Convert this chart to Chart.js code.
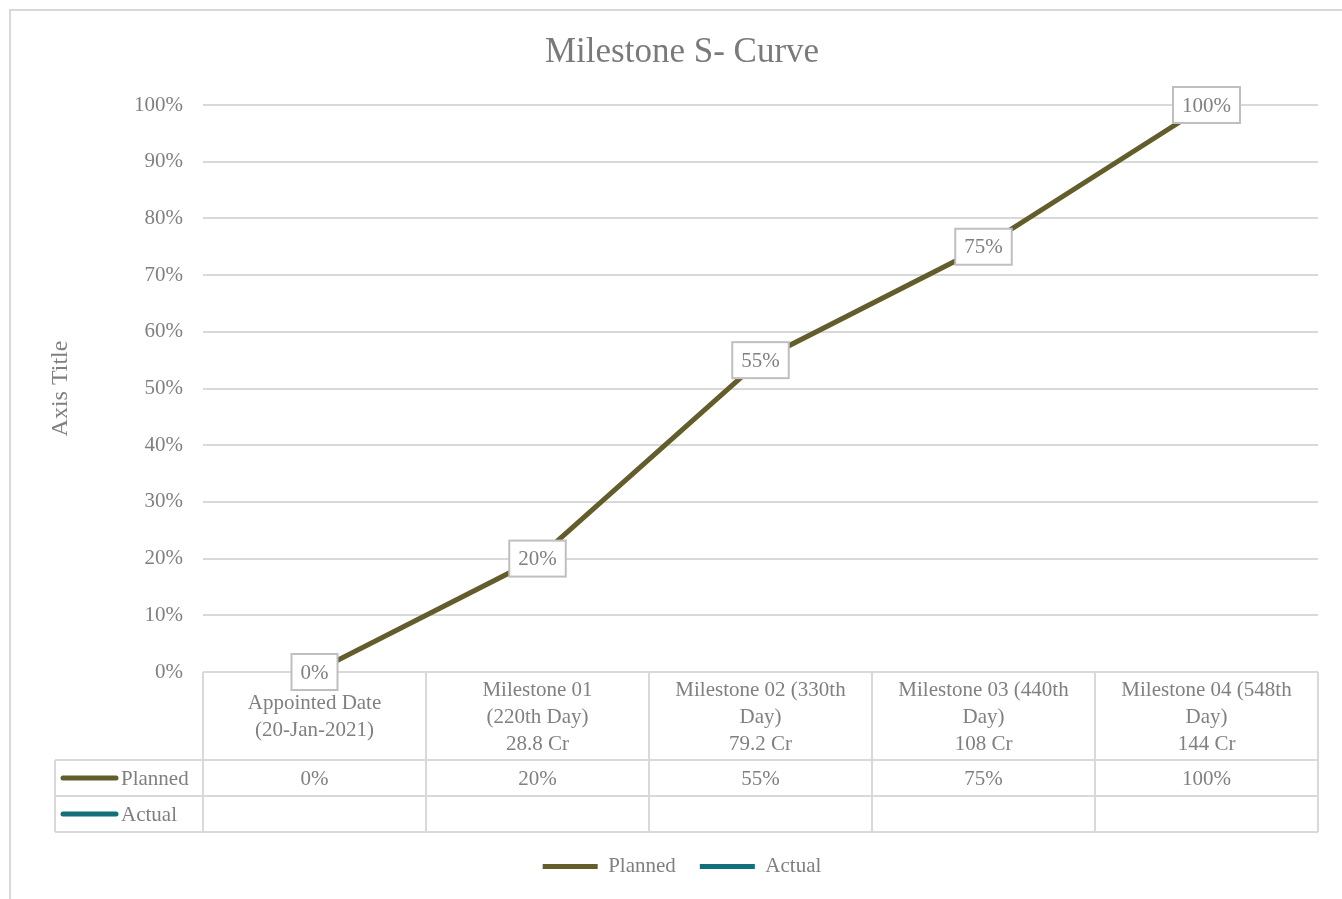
<!DOCTYPE html>
<html>
<head>
<meta charset="utf-8">
<script src="https://cdn.jsdelivr.net/npm/chart.js@4.4.1/dist/chart.umd.min.js"></script>
<style>
  html, body { margin: 0; padding: 0; background: #ffffff; }
  #wrap { width: 1342px; height: 899px; }
</style>
</head>
<body>
<div id="wrap"><canvas id="c" width="1342" height="899"></canvas></div>
<script>
const chartTitle = 'Milestone S- Curve';
const yAxisTitle = 'Axis Title';
const categories = [
  ['Appointed Date', '(20-Jan-2021)'],
  ['Milestone 01', '(220th Day)', '28.8 Cr'],
  ['Milestone 02 (330th', 'Day)', '79.2 Cr'],
  ['Milestone 03 (440th', 'Day)', '108 Cr'],
  ['Milestone 04 (548th', 'Day)', '144 Cr']
];
const seriesNames = ['Planned', 'Actual'];
const plannedValues = [0.00, 0.20, 0.55, 0.75, 1.00];
const actualValues = [null, null, null, null, null];
const seriesColors = ['#625d2b', '#11707a'];

const FONT = "'Liberation Serif', 'Times New Roman', serif";
const TEXT = '#808080';
const GRID = '#d9d9d9';
const pct = v => Math.round(v * 100) + '%';

const framePlugin = {
  id: 'frame',
  beforeDraw(chart) {
    const ctx = chart.ctx;
    ctx.save();
    ctx.fillStyle = '#ffffff';
    ctx.fillRect(0, 0, chart.width, chart.height);
    ctx.strokeStyle = GRID;
    ctx.lineWidth = 2;
    ctx.strokeRect(10, 10, chart.width + 20, chart.height + 20);
    ctx.restore();
  }
};

const tablePlugin = {
  id: 'dataTable',
  beforeDatasetsDraw(chart) {
    const ctx = chart.ctx;
    const xs = chart.scales.x;
    const area = chart.chartArea;
    const n = categories.length;
    const rowH = 36;
    const bottom = xs.bottom;
    const rowTops = [bottom - 2 * rowH, bottom - rowH];
    const leftCol = 55;
    const bounds = [];
    for (let i = 0; i <= n; i++) {
      if (i === 0) bounds.push(area.left);
      else if (i === n) bounds.push(area.right);
      else bounds.push((xs.getPixelForTick(i - 1) + xs.getPixelForTick(i)) / 2);
    }
    ctx.save();
    ctx.strokeStyle = GRID;
    ctx.lineWidth = 2;
    ctx.beginPath();
    ctx.moveTo(area.left, area.bottom); ctx.lineTo(area.right, area.bottom);
    bounds.forEach(b => { ctx.moveTo(b, area.bottom); ctx.lineTo(b, bottom); });
    ctx.moveTo(leftCol, rowTops[0]); ctx.lineTo(area.right, rowTops[0]);
    ctx.moveTo(leftCol, rowTops[1]); ctx.lineTo(area.right, rowTops[1]);
    ctx.moveTo(leftCol, bottom); ctx.lineTo(area.right, bottom);
    ctx.moveTo(leftCol, rowTops[0]); ctx.lineTo(leftCol, bottom);
    ctx.stroke();

    ctx.font = '21px ' + FONT;
    ctx.textBaseline = 'middle';
    chart.data.datasets.forEach((ds, r) => {
      const cy = rowTops[r] + rowH / 2;
      ctx.strokeStyle = ds.borderColor;
      ctx.lineWidth = 5;
      ctx.lineCap = 'round';
      ctx.beginPath();
      ctx.moveTo(63, cy); ctx.lineTo(116, cy);
      ctx.stroke();
      ctx.fillStyle = TEXT;
      ctx.textAlign = 'left';
      ctx.fillText(ds.label, 121, cy + 1);
      ctx.textAlign = 'center';
      ds.data.forEach((v, i) => {
        if (v === null || v === undefined) return;
        ctx.fillText(pct(v), xs.getPixelForTick(i), cy + 1);
      });
    });
    ctx.restore();
  }
};

const labelPlugin = {
  id: 'boxLabels',
  afterDatasetsDraw(chart) {
    const ctx = chart.ctx;
    const meta = chart.getDatasetMeta(0);
    const ds = chart.data.datasets[0];
    ctx.save();
    ctx.font = '21px ' + FONT;
    ctx.textAlign = 'center';
    ctx.textBaseline = 'middle';
    meta.data.forEach((pt, i) => {
      const v = ds.data[i];
      if (v === null) return;
      const txt = pct(v);
      const w = ctx.measureText(txt).width + 18;
      const h = 36;
      ctx.fillStyle = '#ffffff';
      ctx.fillRect(pt.x - w / 2, pt.y - h / 2, w, h);
      ctx.strokeStyle = '#bfbfbf';
      ctx.lineWidth = 2;
      ctx.strokeRect(pt.x - w / 2, pt.y - h / 2, w, h);
      ctx.fillStyle = TEXT;
      ctx.fillText(txt, pt.x, pt.y + 1);
    });
    ctx.restore();
  }
};

new Chart(document.getElementById('c'), {
  type: 'line',
  data: {
    labels: categories,
    datasets: [
      { label: seriesNames[0], data: plannedValues, borderColor: seriesColors[0], backgroundColor: seriesColors[0],
        borderWidth: 5, pointRadius: 0, pointHoverRadius: 0, pointStyle: 'line', borderCapStyle: 'round', tension: 0 },
      { label: seriesNames[1], data: actualValues, borderColor: seriesColors[1], backgroundColor: seriesColors[1],
        borderWidth: 5, pointRadius: 0, pointHoverRadius: 0, pointStyle: 'line', borderCapStyle: 'round', tension: 0 }
    ]
  },
  options: {
    responsive: false,
    animation: false,
    devicePixelRatio: 1,
    layout: { padding: { left: 46, right: 24, top: 0, bottom: 12 } },
    plugins: {
      title: {
        display: true, text: chartTitle, color: '#7a7a7a',
        font: { family: FONT, size: 35, weight: 'normal', lineHeight: 1.2 },
        padding: { top: 32, bottom: 31 }
      },
      legend: {
        position: 'bottom',
        labels: {
          font: { family: FONT, size: 21 }, color: TEXT,
          usePointStyle: true, pointStyleWidth: 55, padding: 24
        }
      },
      tooltip: { enabled: false }
    },
    scales: {
      x: {
        type: 'category',
        offset: true,
        grid: { display: false, drawTicks: false },
        border: { display: false },
        ticks: {
          color: TEXT, font: { family: FONT, size: 21, lineHeight: 1.29 },
          padding: 18, maxRotation: 0, minRotation: 0, autoSkip: false, crossAlign: 'center'
        },
        afterFit(scale) { scale.height = 160; }
      },
      y: {
        min: 0, max: 1,
        grid: { color: GRID, lineWidth: 2, drawTicks: false },
        border: { display: false },
        ticks: {
          stepSize: 0.1, color: TEXT, font: { family: FONT, size: 21 }, padding: 20,
          callback: v => pct(v)
        },
        title: {
          display: true, text: yAxisTitle, color: TEXT,
          font: { family: FONT, size: 24, lineHeight: 1.2 }, padding: { top: 0, bottom: 0 }
        },
        afterFit(scale) { scale.width = 203 - 46; }
      }
    }
  },
  plugins: [framePlugin, labelPlugin, tablePlugin]
});
</script>
</body>
</html>
